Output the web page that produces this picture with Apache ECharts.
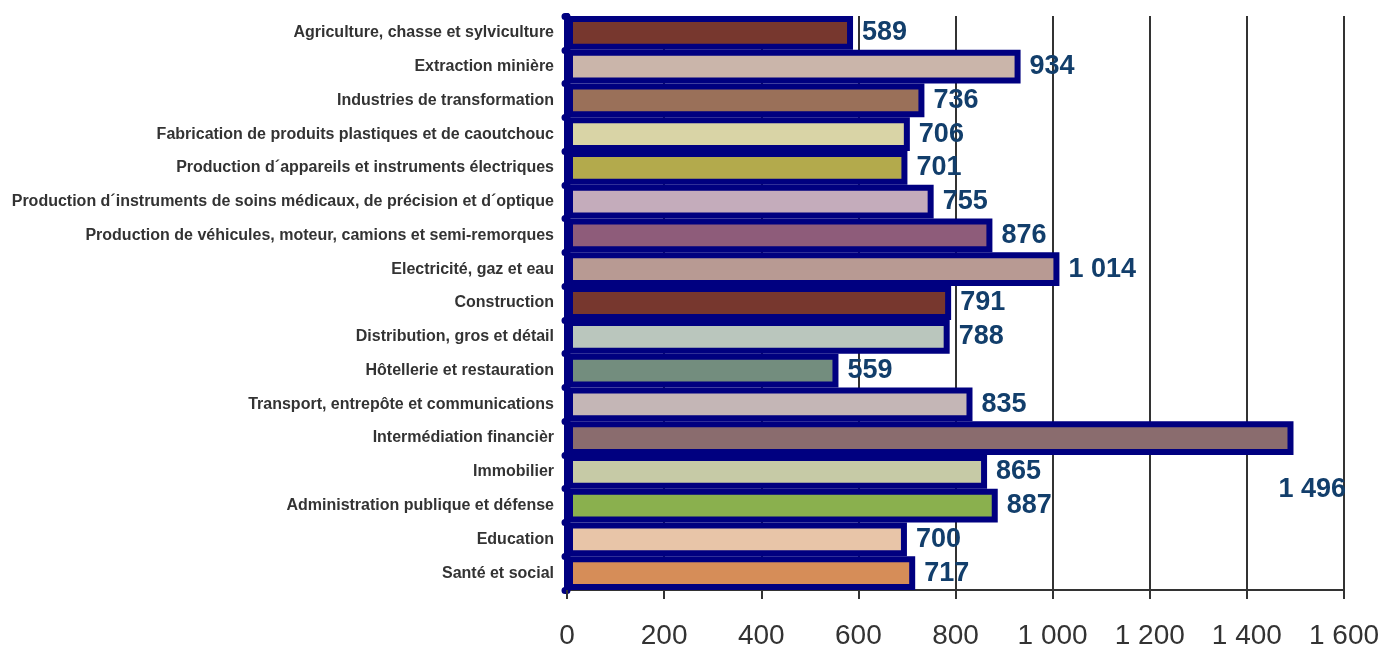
<!DOCTYPE html>
<html>
<head>
<meta charset="utf-8">
<script src="https://cdn.jsdelivr.net/npm/echarts@6/dist/echarts.min.js"></script>
<style>html,body{margin:0;padding:0;background:#fff}#c{width:1385px;height:646px}</style>
</head>
<body>
<div id="c"></div>
<script>
const categories = [
  "Agriculture, chasse et sylviculture",
  "Extraction minière",
  "Industries de transformation",
  "Fabrication de produits plastiques et de caoutchouc",
  "Production d´appareils et instruments électriques",
  "Production d´instruments de soins médicaux, de précision et d´optique",
  "Production de véhicules, moteur, camions et semi-remorques",
  "Electricité, gaz et eau",
  "Construction",
  "Distribution, gros et détail",
  "Hôtellerie et restauration",
  "Transport, entrepôte et communications",
  "Intermédiation financièr",
  "Immobilier",
  "Administration publique et défense",
  "Education",
  "Santé et social"
];
const values = [589, 934, 736, 706, 701, 755, 876, 1014, 791, 788, 559, 835, 1496, 865, 887, 700, 717];
const barColors = ["#77372E", "#CAB5AA", "#9A7059", "#D9D4A6", "#B3AA4C", "#C4ACBB", "#8E5C7A", "#B89A93",
  "#77372E", "#BAC6BD", "#738D7E", "#C4B6B6", "#8A6C6E", "#C6CAA6", "#8AB04E", "#E8C5A8", "#D68D58"];
const xTicks = { min: 0, max: 1600, interval: 200 };

function fmt(v) {
  return String(v).replace(/\B(?=(\d{3})+(?!\d))/g, ' ');
}

const chart = echarts.init(document.getElementById('c'));
const data = values.map((v, i) => {
  const item = { value: v, itemStyle: { color: barColors[i] } };
  if (v === 1496) {
    item.label = { offset: [-24, 51] };
  }
  return item;
});

chart.setOption({
  animation: false,
  grid: { left: 567, right: 41, top: 16, bottom: 56, outerBoundsMode: 'none', containLabel: false },
  xAxis: {
    type: 'value',
    min: xTicks.min, max: xTicks.max, interval: xTicks.interval,
    axisLine: { show: true, lineStyle: { color: '#333', width: 2 } },
    axisTick: { show: true, length: 9, lineStyle: { color: '#333', width: 2 } },
    axisLabel: { formatter: fmt, fontSize: 28, color: '#333', margin: 32, fontFamily: 'Liberation Sans, Arial, sans-serif' },
    splitLine: { show: true, lineStyle: { color: '#333', width: 2 } }
  },
  yAxis: {
    type: 'category',
    inverse: true,
    data: categories,
    axisLine: { show: true, lineStyle: { color: '#000080', width: 6 } },
    axisTick: { show: true, length: 2, lineStyle: { color: '#000080', width: 7, cap: 'round' } },
    axisLabel: { fontSize: 16, fontWeight: 'bold', color: '#333', margin: 13, fontFamily: 'Liberation Sans, Arial, sans-serif' }
  },
  series: [{
    type: 'bar',
    data: data,
    barCategoryGap: '0%',
    itemStyle: { borderColor: '#000080', borderWidth: 6 },
    label: {
      show: true, position: 'right', distance: 9,
      formatter: p => fmt(p.value),
      fontSize: 27, fontWeight: 'bold', color: '#123E6B',
      fontFamily: 'Liberation Sans, Arial, sans-serif'
    }
  }]
});
</script>
</body>
</html>
